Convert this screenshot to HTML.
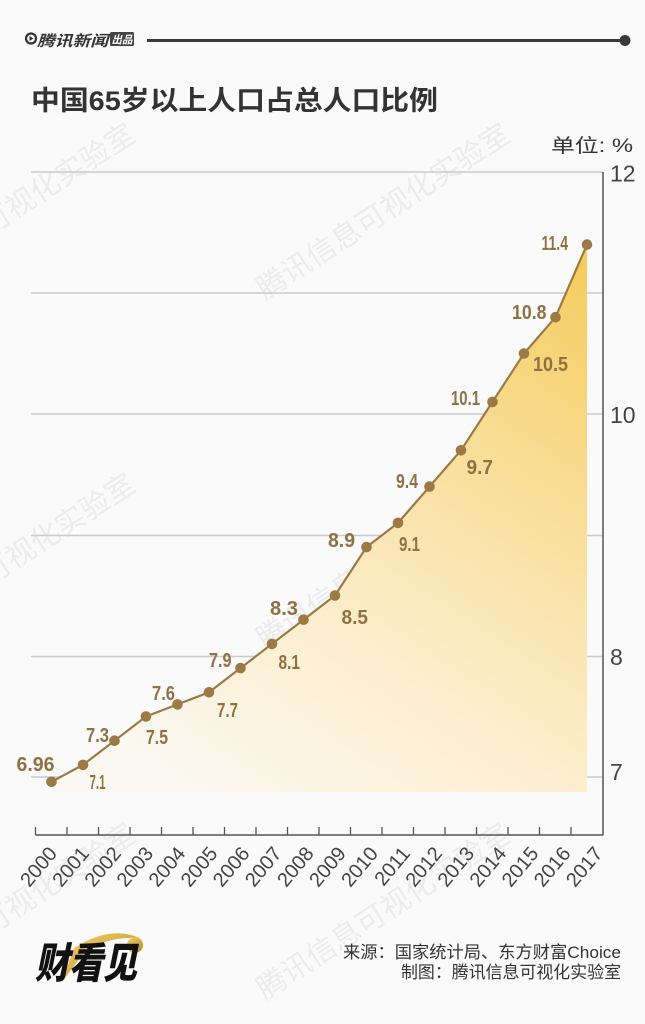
<!DOCTYPE html>
<html>
<head>
<meta charset="utf-8">
<style>
html,body{margin:0;padding:0;background:#fafafa;}
svg{display:block;}
.lbl{font-family:"Liberation Sans Narrow","Liberation Sans",sans-serif;font-weight:bold;font-size:20px;fill:#8f7144;}
.ax{font-family:"Liberation Sans",sans-serif;font-size:23px;fill:#444;}
.xl{font-family:"Liberation Sans",sans-serif;font-size:20px;fill:#444;}
.wm{font-family:"Liberation Sans","Noto Sans CJK SC",sans-serif;font-size:29px;fill:#ebebeb;}
.cn{font-family:"Liberation Sans","Noto Sans CJK SC",sans-serif;}
</style>
</head>
<body>
<svg width="645" height="1024" viewBox="0 0 645 1024" xmlns="http://www.w3.org/2000/svg">
<defs>
<linearGradient id="fg" gradientUnits="userSpaceOnUse" x1="200" y1="800" x2="560" y2="245">
<stop offset="0" stop-color="#fbf8f2"/>
<stop offset="0.35" stop-color="#fcedca"/>
<stop offset="0.65" stop-color="#f9df9c"/>
<stop offset="1" stop-color="#f5cc5e"/>
</linearGradient>
<linearGradient id="gold" x1="0" y1="0" x2="1" y2="1">
<stop offset="0" stop-color="#f5d36a"/>
<stop offset="1" stop-color="#b8862a"/>
</linearGradient>
</defs>
<rect width="645" height="1024" fill="#fafafa"/>

<!-- watermarks -->
<g class="wm">
<text transform="translate(-110,300) rotate(-33)" textLength="295" lengthAdjust="spacingAndGlyphs">腾讯信息可视化实验室</text>
<text transform="translate(265,300) rotate(-33)" textLength="295" lengthAdjust="spacingAndGlyphs">腾讯信息可视化实验室</text>
<text transform="translate(-110,650) rotate(-33)" textLength="295" lengthAdjust="spacingAndGlyphs">腾讯信息可视化实验室</text>
<text transform="translate(265,650) rotate(-33)" textLength="295" lengthAdjust="spacingAndGlyphs">腾讯信息可视化实验室</text>
<text transform="translate(-110,1000) rotate(-33)" textLength="295" lengthAdjust="spacingAndGlyphs">腾讯信息可视化实验室</text>
<text transform="translate(265,1000) rotate(-33)" textLength="295" lengthAdjust="spacingAndGlyphs">腾讯信息可视化实验室</text>
</g>

<!-- header -->
<circle cx="31" cy="38.5" r="5" fill="none" stroke="#333" stroke-width="2.2"/>
<path d="M29.5 36 L33.5 38.5 L29.5 41 Z" fill="#333"/>
<text class="cn" x="37" y="46" font-size="15" font-weight="bold" font-style="italic" fill="#333" textLength="71" lengthAdjust="spacingAndGlyphs">腾讯新闻</text>
<rect x="110" y="32" width="24" height="14" rx="1.5" fill="#444"/>
<text class="cn" x="111.5" y="43.5" font-size="11" font-weight="bold" font-style="italic" fill="#fff" textLength="21" lengthAdjust="spacingAndGlyphs">出品</text>
<line x1="147" y1="40.5" x2="625" y2="40.5" stroke="#3a3a3a" stroke-width="3"/>
<circle cx="625" cy="40.5" r="5.5" fill="#3a3a3a"/>

<!-- title -->
<text class="cn" x="31" y="110" font-size="27" font-weight="bold" fill="#333" textLength="407" lengthAdjust="spacingAndGlyphs">中国65岁以上人口占总人口比例</text>
<text class="cn" x="551" y="152" font-size="19" fill="#333" textLength="82" lengthAdjust="spacingAndGlyphs">单位: %</text>

<!-- gridlines -->
<g stroke="#cbcbcb" stroke-width="1.5">
<line x1="31" y1="172" x2="603" y2="172"/>
<line x1="31" y1="293" x2="603" y2="293"/>
<line x1="31" y1="414" x2="603" y2="414"/>
<line x1="31" y1="535.5" x2="603" y2="535.5"/>
<line x1="31" y1="656.5" x2="603" y2="656.5"/>
<line x1="31" y1="777" x2="603" y2="777"/>
</g>

<!-- area fill -->
<polygon fill="url(#fg)" points="51.5,781.8 83,764.9 114.5,740.7 146,716.5 177.5,704.4 209,692.3 240.5,668.1 272,643.9 303.5,619.7 335,595.5 366.5,547.1 398,522.9 429.5,486.6 461,450.3 492.5,401.9 524,353.5 555.5,317.2 587,244.6 587,792 51.5,792"/>

<!-- right axis -->
<line x1="603" y1="172" x2="603" y2="835.5" stroke="#555" stroke-width="1.5"/>
<text class="ax" x="610" y="181.5">12</text>
<text class="ax" x="610" y="423">10</text>
<text class="ax" x="610" y="665">8</text>
<text class="ax" x="610" y="780">7</text>

<!-- x axis -->
<line x1="35.5" y1="835" x2="603" y2="835" stroke="#555" stroke-width="1.5"/>
<g stroke="#555" stroke-width="1.3">
<line x1="35.5" y1="827" x2="35.5" y2="835"/>
<line x1="67" y1="827" x2="67" y2="835"/>
<line x1="98.5" y1="827" x2="98.5" y2="835"/>
<line x1="130" y1="827" x2="130" y2="835"/>
<line x1="161.5" y1="827" x2="161.5" y2="835"/>
<line x1="193" y1="827" x2="193" y2="835"/>
<line x1="224.5" y1="827" x2="224.5" y2="835"/>
<line x1="256" y1="827" x2="256" y2="835"/>
<line x1="287.5" y1="827" x2="287.5" y2="835"/>
<line x1="319" y1="827" x2="319" y2="835"/>
<line x1="350.5" y1="827" x2="350.5" y2="835"/>
<line x1="382" y1="827" x2="382" y2="835"/>
<line x1="413.5" y1="827" x2="413.5" y2="835"/>
<line x1="445" y1="827" x2="445" y2="835"/>
<line x1="476.5" y1="827" x2="476.5" y2="835"/>
<line x1="508" y1="827" x2="508" y2="835"/>
<line x1="539.5" y1="827" x2="539.5" y2="835"/>
<line x1="571" y1="827" x2="571" y2="835"/>
</g>

<!-- x labels -->
<g class="xl" text-anchor="end">
<text transform="translate(58,854) rotate(-50)">2000</text>
<text transform="translate(90.1,854) rotate(-50)">2001</text>
<text transform="translate(122.2,854) rotate(-50)">2002</text>
<text transform="translate(154.3,854) rotate(-50)">2003</text>
<text transform="translate(186.4,854) rotate(-50)">2004</text>
<text transform="translate(218.5,854) rotate(-50)">2005</text>
<text transform="translate(250.6,854) rotate(-50)">2006</text>
<text transform="translate(282.7,854) rotate(-50)">2007</text>
<text transform="translate(314.8,854) rotate(-50)">2008</text>
<text transform="translate(346.9,854) rotate(-50)">2009</text>
<text transform="translate(379,854) rotate(-50)">2010</text>
<text transform="translate(411.1,854) rotate(-50)">2011</text>
<text transform="translate(443.2,854) rotate(-50)">2012</text>
<text transform="translate(475.3,854) rotate(-50)">2013</text>
<text transform="translate(507.4,854) rotate(-50)">2014</text>
<text transform="translate(539.5,854) rotate(-50)">2015</text>
<text transform="translate(571.6,854) rotate(-50)">2016</text>
<text transform="translate(603.7,854) rotate(-50)">2017</text>
</g>

<!-- line -->
<polyline fill="none" stroke="#9b7a46" stroke-width="2.2" stroke-linejoin="round" points="51.5,781.8 83,764.9 114.5,740.7 146,716.5 177.5,704.4 209,692.3 240.5,668.1 272,643.9 303.5,619.7 335,595.5 366.5,547.1 398,522.9 429.5,486.6 461,450.3 492.5,401.9 524,353.5 555.5,317.2 587,244.6"/>
<g fill="#9b7a46">
<circle cx="51.5" cy="781.8" r="5.3"/>
<circle cx="83" cy="764.9" r="5.3"/>
<circle cx="114.5" cy="740.7" r="5.3"/>
<circle cx="146" cy="716.5" r="5.3"/>
<circle cx="177.5" cy="704.4" r="5.3"/>
<circle cx="209" cy="692.3" r="5.3"/>
<circle cx="240.5" cy="668.1" r="5.3"/>
<circle cx="272" cy="643.9" r="5.3"/>
<circle cx="303.5" cy="619.7" r="5.3"/>
<circle cx="335" cy="595.5" r="5.3"/>
<circle cx="366.5" cy="547.1" r="5.3"/>
<circle cx="398" cy="522.9" r="5.3"/>
<circle cx="429.5" cy="486.6" r="5.3"/>
<circle cx="461" cy="450.3" r="5.3"/>
<circle cx="492.5" cy="401.9" r="5.3"/>
<circle cx="524" cy="353.5" r="5.3"/>
<circle cx="555.5" cy="317.2" r="5.3"/>
<circle cx="587" cy="244.6" r="5.3"/>
</g>

<!-- value labels -->
<g class="lbl">
<text x="16.5" y="771" textLength="38" lengthAdjust="spacingAndGlyphs">6.96</text>
<text x="89.5" y="789" textLength="16" lengthAdjust="spacingAndGlyphs">7.1</text>
<text x="86" y="742" textLength="23" lengthAdjust="spacingAndGlyphs">7.3</text>
<text x="146" y="744" textLength="22" lengthAdjust="spacingAndGlyphs">7.5</text>
<text x="152" y="700" textLength="23" lengthAdjust="spacingAndGlyphs">7.6</text>
<text x="217" y="717" textLength="21" lengthAdjust="spacingAndGlyphs">7.7</text>
<text x="209" y="667" textLength="22.5" lengthAdjust="spacingAndGlyphs">7.9</text>
<text x="278.5" y="669" textLength="21.5" lengthAdjust="spacingAndGlyphs">8.1</text>
<text x="270" y="615" textLength="28" lengthAdjust="spacingAndGlyphs">8.3</text>
<text x="341.5" y="624" textLength="26.5" lengthAdjust="spacingAndGlyphs">8.5</text>
<text x="328" y="547" textLength="27" lengthAdjust="spacingAndGlyphs">8.9</text>
<text x="399" y="551" textLength="21" lengthAdjust="spacingAndGlyphs">9.1</text>
<text x="396" y="488" textLength="22" lengthAdjust="spacingAndGlyphs">9.4</text>
<text x="466.5" y="474" textLength="26.5" lengthAdjust="spacingAndGlyphs">9.7</text>
<text x="451" y="405" textLength="29" lengthAdjust="spacingAndGlyphs">10.1</text>
<text x="533" y="371" textLength="35" lengthAdjust="spacingAndGlyphs">10.5</text>
<text x="512" y="319" textLength="34.5" lengthAdjust="spacingAndGlyphs">10.8</text>
<text x="541.5" y="250" textLength="26.5" lengthAdjust="spacingAndGlyphs">11.4</text>
</g>

<!-- footer logo -->
<path d="M62 982 L74 948 Q110 925 140 938 Q112 936 86 950 Z" fill="url(#gold)"/>
<circle cx="135" cy="945" r="8" fill="url(#gold)"/>
<text class="cn" x="35" y="978" font-size="42" font-weight="900" font-style="italic" fill="#111" textLength="102" lengthAdjust="spacingAndGlyphs">财看见</text>

<!-- footer text -->
<g class="cn" font-size="17" fill="#333" text-anchor="end">
<text x="621" y="958" textLength="278" lengthAdjust="spacingAndGlyphs">来源：国家统计局、东方财富Choice</text>
<text x="621" y="978" textLength="220" lengthAdjust="spacingAndGlyphs">制图：腾讯信息可视化实验室</text>
</g>
</svg>
</body>
</html>
